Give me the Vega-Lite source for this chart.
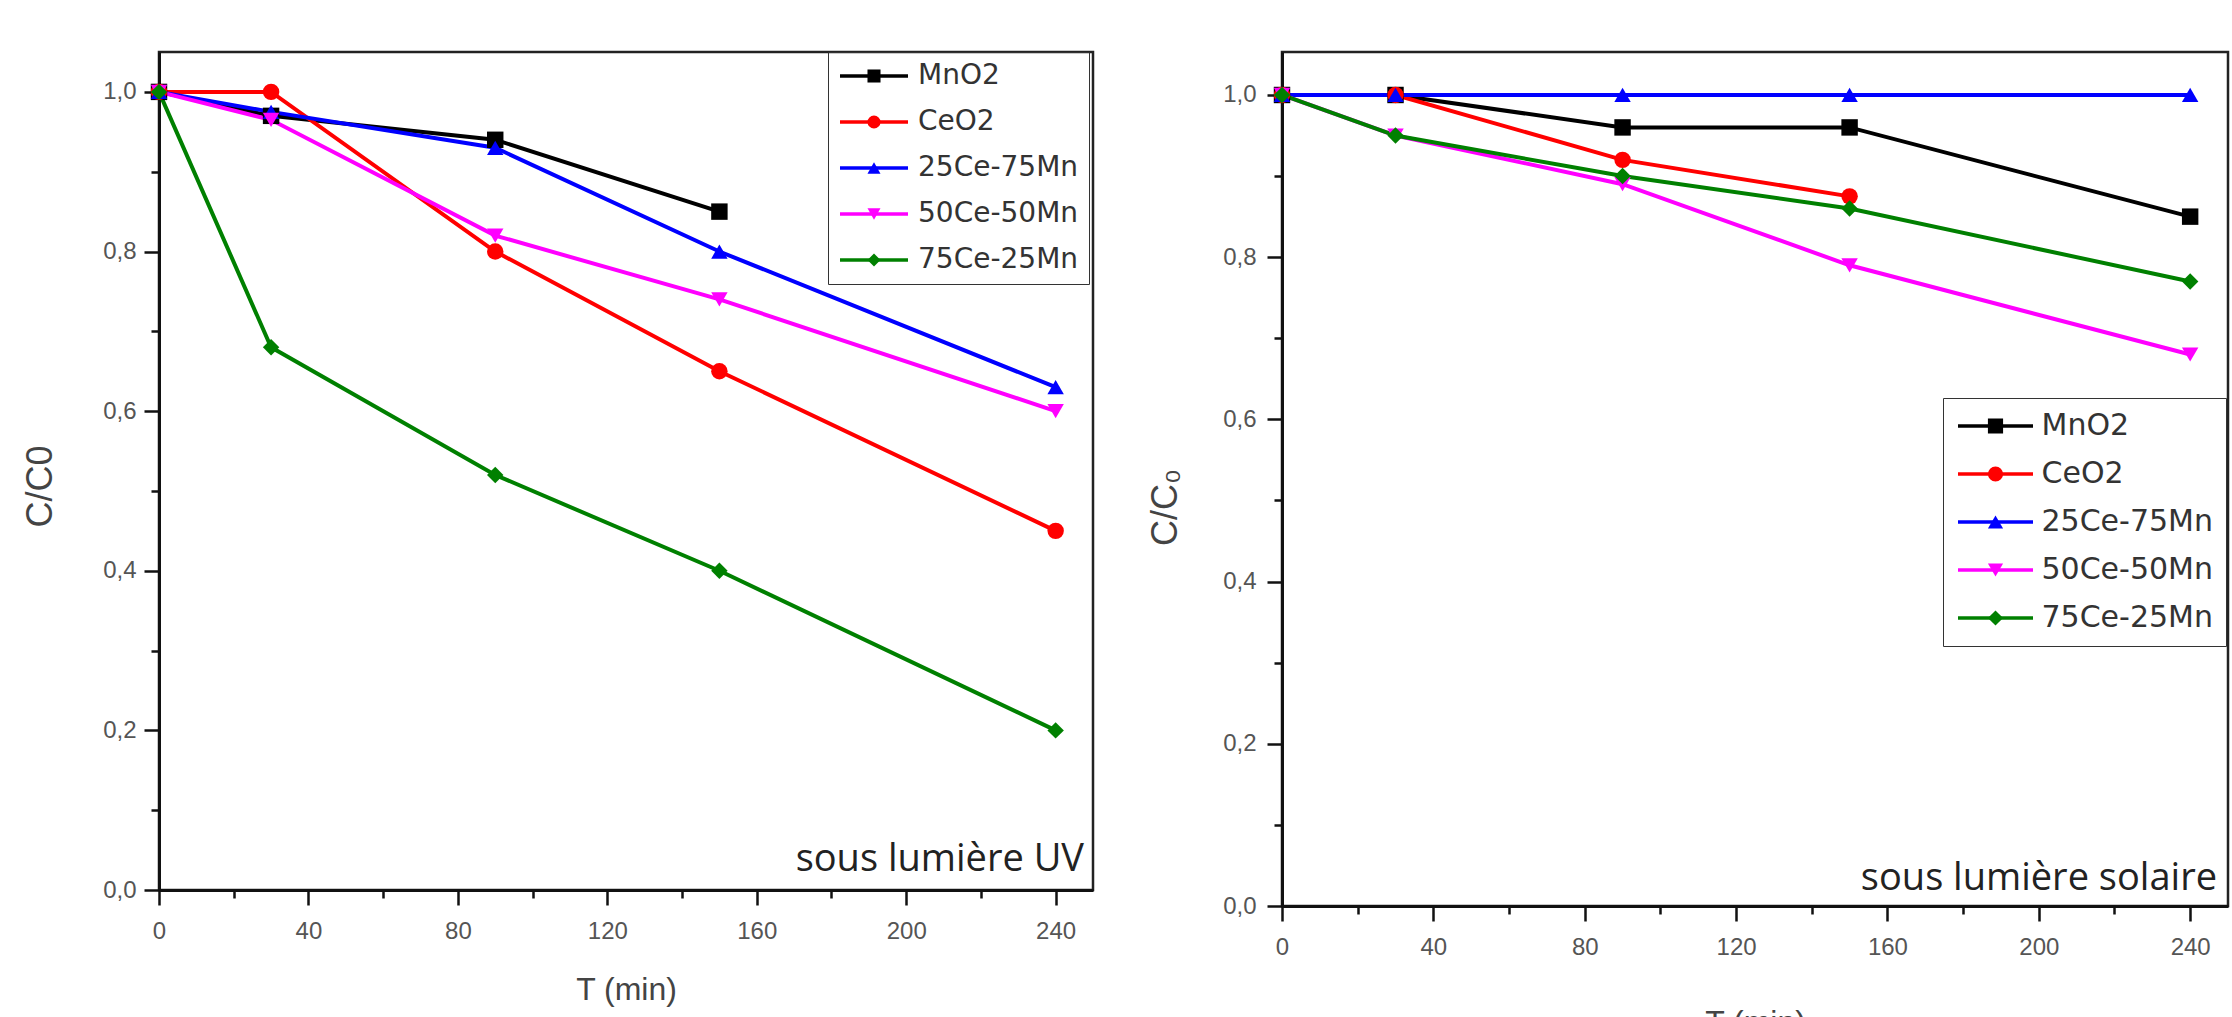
{
  "$schema": "https://vega.github.io/schema/vega-lite/v6.json",
  "autosize": {"type": "pad"},
  "padding": {"left": 20, "top": 50, "right": 0, "bottom": 0},
  "background": "white",
  "bounds": "flush",
  "spacing": 189,
  "datasets": {
    "uv": [
      {"T": 0, "C": 1.0, "series": "MnO2"},
      {"T": 30, "C": 0.97, "series": "MnO2"},
      {"T": 90, "C": 0.94, "series": "MnO2"},
      {"T": 150, "C": 0.85, "series": "MnO2"},
      {"T": 0, "C": 1.0, "series": "CeO2"},
      {"T": 30, "C": 1.0, "series": "CeO2"},
      {"T": 90, "C": 0.80, "series": "CeO2"},
      {"T": 150, "C": 0.65, "series": "CeO2"},
      {"T": 240, "C": 0.45, "series": "CeO2"},
      {"T": 0, "C": 1.0, "series": "25Ce-75Mn"},
      {"T": 30, "C": 0.975, "series": "25Ce-75Mn"},
      {"T": 90, "C": 0.93, "series": "25Ce-75Mn"},
      {"T": 150, "C": 0.80, "series": "25Ce-75Mn"},
      {"T": 240, "C": 0.63, "series": "25Ce-75Mn"},
      {"T": 0, "C": 1.0, "series": "50Ce-50Mn"},
      {"T": 30, "C": 0.965, "series": "50Ce-50Mn"},
      {"T": 90, "C": 0.82, "series": "50Ce-50Mn"},
      {"T": 150, "C": 0.74, "series": "50Ce-50Mn"},
      {"T": 240, "C": 0.60, "series": "50Ce-50Mn"},
      {"T": 0, "C": 1.0, "series": "75Ce-25Mn"},
      {"T": 30, "C": 0.68, "series": "75Ce-25Mn"},
      {"T": 90, "C": 0.52, "series": "75Ce-25Mn"},
      {"T": 150, "C": 0.40, "series": "75Ce-25Mn"},
      {"T": 240, "C": 0.20, "series": "75Ce-25Mn"}
    ],
    "solar": [
      {"T": 0, "C": 1.0, "series": "MnO2"},
      {"T": 30, "C": 1.0, "series": "MnO2"},
      {"T": 90, "C": 0.96, "series": "MnO2"},
      {"T": 150, "C": 0.96, "series": "MnO2"},
      {"T": 240, "C": 0.85, "series": "MnO2"},
      {"T": 0, "C": 1.0, "series": "CeO2"},
      {"T": 30, "C": 1.0, "series": "CeO2"},
      {"T": 90, "C": 0.92, "series": "CeO2"},
      {"T": 150, "C": 0.875, "series": "CeO2"},
      {"T": 0, "C": 1.0, "series": "25Ce-75Mn"},
      {"T": 30, "C": 1.0, "series": "25Ce-75Mn"},
      {"T": 90, "C": 1.0, "series": "25Ce-75Mn"},
      {"T": 150, "C": 1.0, "series": "25Ce-75Mn"},
      {"T": 240, "C": 1.0, "series": "25Ce-75Mn"},
      {"T": 0, "C": 1.0, "series": "50Ce-50Mn"},
      {"T": 30, "C": 0.95, "series": "50Ce-50Mn"},
      {"T": 90, "C": 0.89, "series": "50Ce-50Mn"},
      {"T": 150, "C": 0.79, "series": "50Ce-50Mn"},
      {"T": 240, "C": 0.68, "series": "50Ce-50Mn"},
      {"T": 0, "C": 1.0, "series": "75Ce-25Mn"},
      {"T": 30, "C": 0.95, "series": "75Ce-25Mn"},
      {"T": 90, "C": 0.90, "series": "75Ce-25Mn"},
      {"T": 150, "C": 0.86, "series": "75Ce-25Mn"},
      {"T": 240, "C": 0.77, "series": "75Ce-25Mn"}
    ]
  },
  "config": {
    "view": {"stroke": "#222", "strokeWidth": 2.5},
    "axis": {
      "grid": false,
      "domainColor": "#111",
      "domainWidth": 3,
      "tickColor": "#111",
      "tickWidth": 2.5,
      "labelFont": "Liberation Sans",
      "labelFontSize": 24,
      "labelColor": "#555",
      "titleFont": "Liberation Sans",
      "titleColor": "#444",
      "titleFontWeight": "normal",
      "labelOverlap": false,
      "labelFlush": false
    },
    "legend": {
      "labelFont": "DejaVu Sans",
      "labelColor": "#333",
      "labelLimit": 400
    }
  },
  "resolve": {
    "scale": {"stroke": "independent", "fill": "independent", "shape": "independent"},
    "legend": {"stroke": "independent", "fill": "independent", "shape": "independent"}
  },
  "hconcat": [
    {
      "width": 934,
      "height": 838,
      "data": {"name": "uv"},
      "layer": [
        {
          "mark": {"type": "line", "strokeWidth": 4},
          "encoding": {
            "x": {
              "field": "T", "type": "quantitative",
              "scale": {"domain": [0, 250], "nice": false},
              "axis": {
                "title": "T (min)",
                "values": [0, 20, 40, 60, 80, 100, 120, 140, 160, 180, 200, 220, 240],
                "labelExpr": "datum.value % 40 == 0 ? datum.label : ''",
                "tickSize": {"condition": {"test": "datum.value % 40 != 0", "value": 8}, "value": 15},
                "labelPadding": 14,
                "titleFontSize": 32,
                "titleY": 99,
                "titleBaseline": "middle"
              }
            },
            "y": {
              "field": "C", "type": "quantitative",
              "scale": {"domain": [0, 1.05], "nice": false},
              "axis": {
                "title": "C/C0",
                "values": [0, 0.1, 0.2, 0.3, 0.4, 0.5, 0.6, 0.7, 0.8, 0.9, 1.0],
                "labelExpr": "round(datum.value*10) % 2 == 0 ? replace(format(datum.value, '.1f'), '.', ',') : ''",
                "tickSize": {"condition": {"test": "round(datum.value*10) % 2 == 1", "value": 8}, "value": 15},
                "labelPadding": 8,
                "titleFontSize": 36,
                "titleAngle": 270,
                "titleX": -119,
                "titleY": 434,
                "titleBaseline": "middle",
                "titleAlign": "center"
              }
            },
            "stroke": {
              "field": "series", "type": "nominal",
              "sort": ["MnO2", "CeO2", "25Ce-75Mn", "50Ce-50Mn", "75Ce-25Mn"],
              "scale": {"range": ["#000000", "#ff0000", "#0000ff", "#ff00ff", "#008000"]},
              "legend": {
                "title": null,
                "orient": "none",
                "direction": "vertical",
                "legendX": 669,
                "legendY": 0,
                "padding": 10,
                "rowPadding": 18,
                "labelOffset": 8,
                "labelFontSize": 28,
                "clipHeight": 28,
                "symbolType": "stroke",
                "symbolSize": 4624,
                "symbolStrokeWidth": 3.5,
                "strokeColor": "#333"
              }
            }
          }
        },
        {
          "mark": {"type": "point", "filled": true, "size": 270, "opacity": 1},
          "encoding": {
            "x": {"field": "T", "type": "quantitative"},
            "y": {"field": "C", "type": "quantitative"},
            "fill": {
              "field": "series", "type": "nominal",
              "scale": {
                "domain": ["MnO2", "CeO2", "25Ce-75Mn", "50Ce-50Mn", "75Ce-25Mn"],
                "range": ["#000000", "#ff0000", "#0000ff", "#ff00ff", "#008000"]
              },
              "legend": {
                "title": null,
                "orient": "none",
                "direction": "vertical",
                "legendX": 691,
                "legendY": 0,
                "padding": 10,
                "rowPadding": 18,
                "labelOffset": 8,
                "labelFontSize": 28,
                "labelExpr": "''",
                "labelOpacity": 0,
                "clipHeight": 28,
                "symbolSize": 170,
                "symbolStrokeWidth": 0,
                "symbolOpacity": 1
              }
            },
            "shape": {
              "field": "series", "type": "nominal",
              "scale": {
                "domain": ["MnO2", "CeO2", "25Ce-75Mn", "50Ce-50Mn", "75Ce-25Mn"],
                "range": ["square", "circle", "triangle-up", "triangle-down", "diamond"]
              }
            }
          }
        },
        {
          "data": {"values": [{"label": "sous lumière UV"}]},
          "mark": {"type": "text", "align": "right", "baseline": "alphabetic", "dx": -9, "dy": -19, "font": "Open Sans", "fontSize": 38, "color": "#222"},
          "encoding": {
            "x": {"datum": 250},
            "y": {"datum": 0},
            "text": {"field": "label"}
          }
        }
      ]
    },
    {
      "width": 946,
      "height": 854,
      "data": {"name": "solar"},
      "layer": [
        {
          "mark": {"type": "line", "strokeWidth": 4},
          "encoding": {
            "x": {
              "field": "T", "type": "quantitative",
              "scale": {"domain": [0, 250], "nice": false},
              "axis": {
                "title": "T (min)",
                "values": [0, 20, 40, 60, 80, 100, 120, 140, 160, 180, 200, 220, 240],
                "labelExpr": "datum.value % 40 == 0 ? datum.label : ''",
                "tickSize": {"condition": {"test": "datum.value % 40 != 0", "value": 8}, "value": 15},
                "labelPadding": 14,
                "titleFontSize": 32,
                "titleY": 116,
                "titleBaseline": "middle"
              }
            },
            "y": {
              "field": "C", "type": "quantitative",
              "scale": {"domain": [0, 1.053], "nice": false},
              "axis": {
                "title": "C/C₀",
                "values": [0, 0.1, 0.2, 0.3, 0.4, 0.5, 0.6, 0.7, 0.8, 0.9, 1.0],
                "labelExpr": "round(datum.value*10) % 2 == 0 ? replace(format(datum.value, '.1f'), '.', ',') : ''",
                "tickSize": {"condition": {"test": "round(datum.value*10) % 2 == 1", "value": 8}, "value": 15},
                "labelPadding": 11,
                "titleFontSize": 36,
                "titleAngle": 270,
                "titleX": -117,
                "titleY": 455,
                "titleBaseline": "middle",
                "titleAlign": "center"
              }
            },
            "stroke": {
              "field": "series", "type": "nominal",
              "sort": ["MnO2", "CeO2", "25Ce-75Mn", "50Ce-50Mn", "75Ce-25Mn"],
              "scale": {"range": ["#000000", "#ff0000", "#0000ff", "#ff00ff", "#008000"]},
              "legend": {
                "title": null,
                "orient": "none",
                "direction": "vertical",
                "legendX": 661,
                "legendY": 346,
                "padding": 13,
                "rowPadding": 18,
                "labelOffset": 6.5,
                "labelFontSize": 30,
                "clipHeight": 30,
                "symbolType": "stroke",
                "symbolSize": 5625,
                "symbolStrokeWidth": 3.5,
                "strokeColor": "#333"
              }
            }
          }
        },
        {
          "mark": {"type": "point", "filled": true, "size": 270, "opacity": 1},
          "encoding": {
            "x": {"field": "T", "type": "quantitative"},
            "y": {"field": "C", "type": "quantitative"},
            "fill": {
              "field": "series", "type": "nominal",
              "scale": {
                "domain": ["MnO2", "CeO2", "25Ce-75Mn", "50Ce-50Mn", "75Ce-25Mn"],
                "range": ["#000000", "#ff0000", "#0000ff", "#ff00ff", "#008000"]
              },
              "legend": {
                "title": null,
                "orient": "none",
                "direction": "vertical",
                "legendX": 685.5,
                "legendY": 346,
                "padding": 13,
                "rowPadding": 18,
                "labelOffset": 6.5,
                "labelFontSize": 30,
                "labelExpr": "''",
                "labelOpacity": 0,
                "clipHeight": 30,
                "symbolSize": 230,
                "symbolStrokeWidth": 0,
                "symbolOpacity": 1
              }
            },
            "shape": {
              "field": "series", "type": "nominal",
              "scale": {
                "domain": ["MnO2", "CeO2", "25Ce-75Mn", "50Ce-50Mn", "75Ce-25Mn"],
                "range": ["square", "circle", "triangle-up", "triangle-down", "diamond"]
              }
            }
          }
        },
        {
          "data": {"values": [{"label": "sous lumière solaire"}]},
          "mark": {"type": "text", "align": "right", "baseline": "alphabetic", "dx": -11, "dy": -16, "font": "Open Sans", "fontSize": 38, "color": "#222"},
          "encoding": {
            "x": {"datum": 250},
            "y": {"datum": 0},
            "text": {"field": "label"}
          }
        }
      ]
    }
  ]
}
